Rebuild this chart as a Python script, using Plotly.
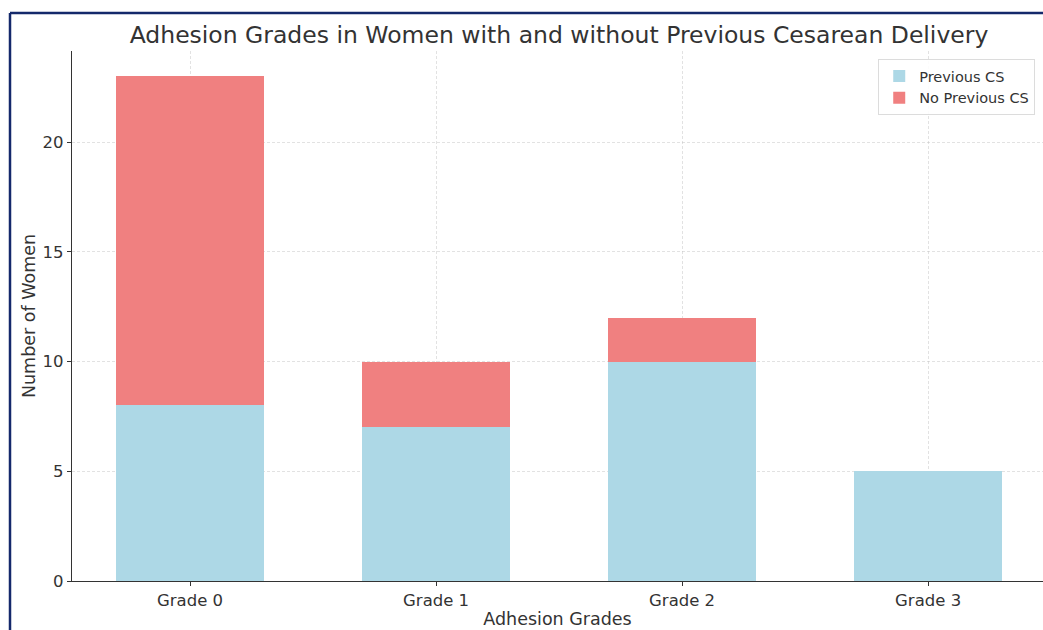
import plotly.graph_objects as go

grades = ["Grade 0", "Grade 1", "Grade 2", "Grade 3"]
previous_cs = [8, 7, 10, 5]
no_previous_cs = [15, 3, 2, 0]
y_ticks = [0, 5, 10, 15, 20]

BLUE = "#ADD8E6"
RED = "#F08080"
TEXT = "#333333"
FONT = "DejaVu Sans"
GRID = "rgba(190,190,190,0.45)"

fig = go.Figure()
fig.add_trace(go.Bar(
    x=grades, y=previous_cs, name="Previous CS",
    marker=dict(color=BLUE, line=dict(width=0)), width=0.6,
))
fig.add_trace(go.Bar(
    x=grades, y=no_previous_cs, name="No Previous CS",
    marker=dict(color=RED, line=dict(width=0)), width=0.6,
))

fig.update_layout(
    barmode="stack",
    width=1043, height=630,
    margin=dict(l=72, r=0, t=51, b=49),
    paper_bgcolor="white", plot_bgcolor="white",
    font=dict(family=FONT, color=TEXT, size=16),
    title=dict(
        text="Adhesion Grades in Women with and without Previous Cesarean Delivery",
        x=559 / 1043, xanchor="center", y=1 - 35 / 630, yanchor="middle",
        font=dict(size=23.5, color=TEXT, family=FONT),
    ),
    legend=dict(
        x=0.992, xanchor="right", y=0.985, yanchor="top",
        bgcolor="rgba(255,255,255,0.9)", bordercolor="#dcdcdc", borderwidth=1,
        font=dict(size=14.5, color=TEXT, family=FONT),
        traceorder="normal",
        itemwidth=30, tracegroupgap=0,
    ),
    xaxis=dict(
        type="category", range=[-0.48, 3.467],
        showline=True, linecolor="#333333", linewidth=1.3,
        ticks="outside", ticklen=4, tickcolor="#333333",
        showgrid=True, gridcolor=GRID, griddash="3px,2px", gridwidth=1,
        tickfont=dict(size=16.5, color=TEXT),
        title=dict(text="Adhesion Grades", font=dict(size=17.5, color=TEXT), standoff=3),
        zeroline=False,
    ),
    yaxis=dict(
        range=[0, 24.15], tickvals=y_ticks,
        showline=True, linecolor="#333333", linewidth=1.3,
        ticks="outside", ticklen=4, tickcolor="#333333",
        showgrid=True, gridcolor=GRID, griddash="3px,2px", gridwidth=1,
        tickfont=dict(size=16.5, color=TEXT),
        title=dict(text="Number of Women", font=dict(size=17.5, color=TEXT), standoff=2),
        zeroline=False,
    ),
)

# Navy frame along the left and top edges
frame_x = (10 - 72) / 971
frame_y = (581 - 13) / 530
fig.add_shape(type="line", xref="paper", yref="paper",
              x0=frame_x, x1=frame_x, y0=-0.2, y1=frame_y,
              line=dict(color="#14296b", width=2.5))
fig.add_shape(type="line", xref="paper", yref="paper",
              x0=frame_x, x1=1.1, y0=frame_y, y1=frame_y,
              line=dict(color="#14296b", width=2.5))

fig.write_html("out.html")
